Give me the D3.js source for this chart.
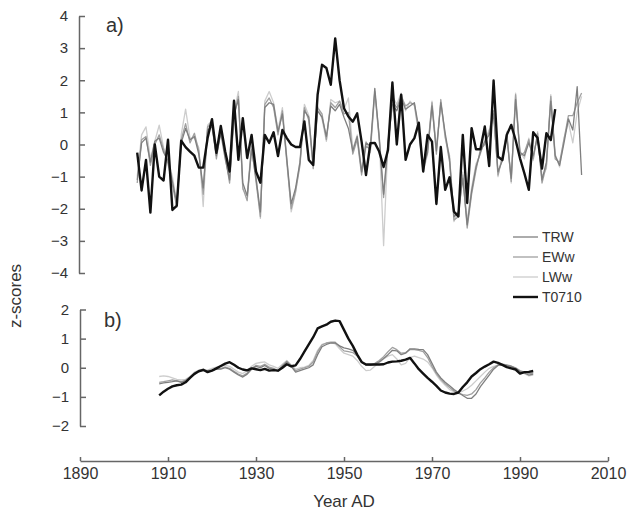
<!DOCTYPE html>
<html>
<head>
<meta charset="utf-8">
<script src="https://cdn.jsdelivr.net/npm/d3@7"></script>
<style>
  body { margin: 0; background: #fff; }
  svg text { font-family: "Liberation Sans", Arial, sans-serif; fill: #333; }
  .axis path, .axis line { stroke: #666; stroke-width: 1.5; }
  .axis text { font-size: 15px; fill: #333; }
</style>
</head>
<body>
<div id="chart"></div>
<script>
//Data

// panel a) annual series, 1903-2004 (T0710 ends 1998)
var yearsRaw = d3.range(1903, 2005);
var yearsT = d3.range(1903, 1999);

var trwRaw = [-1.1, 0.05, 0.2, -0.55, 0.1, 0.2, -0.25, -0.5, -1.15, -1.85,
  0.05, 0.5, 0.15, 0.25, -0.3, -1.35, 0.45, 0.55, -0.35, 0.35,
  -0.45, -1.1, 0.95, 1.4, -1.2, -1.6, -0.15, -1.05, -2.1, 1.15,
  1.3, 1.25, 0.4, 0.95, -0.45, -1.85, -1.35, -0.55, 1.05, 0.85,
  -0.65, 1.05, 0.85, 0.25, 1.2, 1.05, 1.25, 0.85, 0.5, -0.2,
  0.25, -0.85, 0.05, -0.05, 1.75, 0.25, -1.55, 0.05, 1.25, 1.05,
  1.45, 1.1, 1.2, 1.3, 0.5, -0.7, -0.25, 1.2, -0.2, 1.3,
  0.35, -0.45, -2.25, -2.1, -1.05, -2.5, -1.45, -0.7, -0.25, 0.1,
  0.3, 0.95, -0.85, -0.5, 0.25, -1.05, 1.4, -0.25, -0.35, 0.05,
  -0.35, 0.25, -1.1, -0.55, 1.35, -0.35, -0.65, 0.05, 0.8, 0.45,
  1.8, -0.95];

var ewwRaw = [-1.2, 0.15, 0.25, -0.65, 0.0, 0.3, -0.15, -0.6, -1.25, -1.95,
  0.15, 0.65, 0.05, 0.35, -0.2, -1.55, 0.55, 0.65, -0.45, 0.45,
  -0.35, -1.2, 0.85, 1.5, -1.35, -1.75, -0.05, -1.15, -2.25, 1.25,
  1.45, 1.15, 0.3, 1.05, -0.55, -2.0, -1.45, -0.65, 1.15, 0.75,
  -0.75, 1.15, 0.95, 0.15, 1.3, 1.15, 1.35, 0.95, 1.0, -0.3,
  0.15, -0.95, -0.05, -0.15, 1.65, 0.15, -1.65, -0.05, 1.35, 1.15,
  1.5, 1.2, 1.3, 1.25, 0.4, -0.8, -0.15, 1.3, -0.3, 1.4,
  0.25, -0.55, -2.35, -2.25, -0.95, -2.6, -1.55, -0.8, -0.15, 0.0,
  0.4, 1.05, -0.95, -0.4, 0.35, -1.15, 1.55, -0.35, -0.25, 0.15,
  -0.45, 0.35, -1.2, -0.65, 1.5, -0.45, -0.55, 0.15, 0.9, 0.9,
  1.3, 1.6];

var lwwRaw = [-1.0, 0.3, 0.55, -0.45, 0.1, 0.6, -0.1, -0.45, -1.0, -1.8,
  0.3, 1.1, 0.2, 0.2, -0.1, -1.93, 0.6, 0.75, -0.3, 0.5,
  -0.3, -1.0, 1.0, 1.65, -1.4, -1.6, 0.05, -0.95, -2.3, 1.35,
  1.65, 1.3, 0.45, 1.15, -0.4, -2.1, -1.5, -0.5, 1.25, 0.9,
  -0.6, 1.2, 0.8, 0.1, 1.4, 1.3, 1.35, 1.1, 1.45, -0.15,
  0.3, -0.8, 0.1, -0.25, 1.6, 0.3, -3.15, 0.1, 1.5, 1.25,
  1.6, 1.05, 1.35, 1.2, 0.3, -0.85, -0.3, 1.35, -0.1, 1.3,
  0.2, -0.35, -2.4, -2.05, -0.85, -2.4, -1.35, -0.6, -0.3, 0.15,
  0.45, 1.0, -1.0, -0.3, 0.4, -1.2, 1.6, -0.2, -0.45, 0.2,
  -0.5, 0.4, -1.0, -0.75, 1.55, -0.3, -0.7, 0.2, 0.7, 0.05,
  1.0, 1.5];

var t0710Raw = [-0.25, -1.43, -0.48, -2.12, 0.0, -1.0, -1.12, 0.15, -2.04, -1.9,
  0.12, -0.08, -0.22, -0.35, -0.72, -0.72, 0.2, 0.79, -0.26, 0.58,
  -0.22, -0.84, 1.36, -0.48, 0.82, -0.42, 0.3, -0.84, -1.19, 0.3,
  0.05, 0.38, -0.36, 0.45, 0.2, 0.0, -0.08, -0.08, 0.72, -0.48,
  -0.64, 1.55, 2.48, 2.38, 1.86, 3.3, 2.0, 1.13, 0.87, 0.71,
  0.97, 0.09, -0.95, 0.04, 0.05, -0.22, -0.7, -0.17, 1.93, 0.0,
  1.55, -0.48, 0.0, 0.2, 0.68, -0.84, 0.3, 0.09, -1.85, -0.08,
  -1.41, -1.02, -2.09, -2.24, 0.3, -1.82, 0.51, -0.15, -0.15, 0.56,
  -0.67, 1.99, -0.38, -0.48, 0.3, 0.61, 0.14, -0.43, -0.9, -1.41,
  0.38, 0.2, -0.75, 0.35, 0.14, 1.1];

// panel b) smoothed series, 1908-1993
var yearsSmooth = d3.range(1908, 1994);

var trwSmooth = [-0.55, -0.52, -0.5, -0.48, -0.45, -0.5, -0.45, -0.35, -0.22, -0.12,
  -0.1, -0.1, -0.08, -0.05, -0.05, 0.0, -0.05, -0.15, -0.25, -0.32,
  -0.22, -0.05, 0.05, 0.0, 0.08, -0.02, -0.05, -0.12, 0.05, 0.2,
  0.05, -0.15, -0.1, -0.05, 0.0, 0.1, 0.45, 0.72, 0.8, 0.85,
  0.85, 0.75, 0.68, 0.65, 0.6, 0.45, 0.2, 0.1, 0.08, 0.12,
  0.2, 0.32, 0.45, 0.6, 0.58, 0.45, 0.5, 0.65, 0.65, 0.63,
  0.62, 0.45, 0.15, -0.15, -0.35, -0.5, -0.62, -0.75, -0.85, -0.95,
  -1.05, -1.05, -0.9, -0.65, -0.45, -0.25, -0.05, 0.08, 0.1, 0.08,
  0.05, -0.02, -0.12, -0.18, -0.25, -0.22];

var ewwSmooth = [-0.5, -0.48, -0.45, -0.42, -0.45, -0.48, -0.42, -0.32, -0.2, -0.1,
  -0.08, -0.12, -0.1, -0.05, -0.02, 0.02, -0.02, -0.12, -0.22, -0.28,
  -0.18, -0.02, 0.08, 0.05, 0.12, 0.02, -0.02, -0.1, 0.08, 0.22,
  0.08, -0.1, -0.05, 0.0, 0.05, 0.2, 0.55, 0.78, 0.85, 0.88,
  0.88, 0.72, 0.58, 0.55, 0.52, 0.4, 0.18, 0.1, 0.1, 0.15,
  0.25, 0.38, 0.55, 0.7, 0.62, 0.5, 0.52, 0.62, 0.62, 0.6,
  0.55, 0.35, 0.05, -0.2, -0.4, -0.55, -0.68, -0.8, -0.88, -0.92,
  -0.95, -0.9, -0.75, -0.52, -0.35, -0.15, 0.0, 0.1, 0.12, 0.1,
  0.06, 0.0, -0.1, -0.15, -0.2, -0.18];

var lwwSmooth = [-0.3, -0.28, -0.3, -0.35, -0.4, -0.42, -0.4, -0.3, -0.15, -0.08,
  -0.05, -0.08, -0.02, 0.02, 0.05, 0.08, 0.05, -0.05, -0.15, -0.2,
  -0.1, 0.05, 0.15, 0.18, 0.2, 0.1, 0.05, -0.02, 0.12, 0.25,
  0.1, -0.05, 0.0, 0.02, 0.08, 0.25, 0.6, 0.8, 0.85, 0.86,
  0.82, 0.65, 0.5, 0.45, 0.4, 0.25, 0.05, -0.1, -0.08, 0.05,
  0.18, 0.3, 0.4, 0.45, 0.3, 0.1, 0.15, 0.35, 0.4, 0.35,
  0.3, 0.2, 0.0, -0.25, -0.45, -0.6, -0.75, -0.82, -0.85, -0.8,
  -0.72, -0.6, -0.45, -0.3, -0.15, -0.02, 0.05, 0.08, 0.1, 0.06,
  0.02, -0.05, -0.12, -0.2, -0.28, -0.25];

var t0710Smooth = [-0.95, -0.82, -0.72, -0.64, -0.6, -0.58, -0.5, -0.35, -0.21, -0.12,
  -0.07, -0.15, -0.1, -0.02, 0.06, 0.14, 0.19, 0.1, 0.0, -0.06,
  -0.09, -0.02, -0.05, -0.08, -0.04, -0.1, -0.08, -0.1, 0.0, 0.12,
  0.05, 0.08, 0.3, 0.55, 0.8, 1.05, 1.35, 1.42, 1.48, 1.58,
  1.62, 1.6, 1.3, 1.0, 0.75, 0.45, 0.2, 0.11, 0.11, 0.11,
  0.11, 0.12, 0.18, 0.21, 0.22, 0.24, 0.28, 0.34, 0.15, -0.05,
  -0.2, -0.35, -0.48, -0.62, -0.78, -0.85, -0.89, -0.9, -0.85, -0.66,
  -0.5, -0.3, -0.18, -0.05, 0.04, 0.12, 0.21, 0.17, 0.1, 0.02,
  -0.02, -0.06, -0.2, -0.15, -0.14, -0.11];

var seriesNames = ["TRW", "EWw", "LWw", "T0710"];
var seriesColors = ["#7f7f7f", "#a0a0a0", "#cdcdcd", "#111111"];
var seriesWidths = [1.3, 1.3, 1.3, 2.4];

var yTicksA = [-4, -3, -2, -1, 0, 1, 2, 3, 4];
var yTicksB = [-2, -1, 0, 1, 2];
var xTicks = [1890, 1910, 1930, 1950, 1970, 1990, 2010];

//Building the chart
var width = 628, height = 511;
var svg = d3.select("#chart").append("svg")
    .attr("width", width)
    .attr("height", height);
svg.append("rect")
    .attr("width", width)
    .attr("height", height)
    .attr("fill", "#fff");

var x = d3.scaleLinear().domain([1890, 2010]).range([80, 608]);
var yA = d3.scaleLinear().domain([-4, 4]).range([273, 16]);
var yB = d3.scaleLinear().domain([-2, 2]).range([426, 309.5]);
var fmtInt = d3.format("d");

// axes
svg.append("g")
    .attr("class", "axis")
    .attr("transform", "translate(79,0)")
    .call(d3.axisLeft(yA).tickValues(yTicksA).tickFormat(fmtInt).tickSizeInner(-6).tickSizeOuter(0).tickPadding(11));
svg.append("g")
    .attr("class", "axis")
    .attr("transform", "translate(80,0)")
    .call(d3.axisLeft(yB).tickValues(yTicksB).tickFormat(fmtInt).tickSizeInner(-6).tickSizeOuter(0).tickPadding(11));
svg.append("g")
    .attr("class", "axis xaxis")
    .attr("transform", "translate(0,461)")
    .call(d3.axisBottom(x).tickValues(xTicks).tickFormat(fmtInt).tickSizeInner(-4).tickSizeOuter(0).tickPadding(7));
svg.selectAll(".xaxis text").style("font-size", "16px");

// lines
function drawSeries(years, values, yScale, i) {
    var line = d3.line()
        .x(function(d, j) { return x(years[j]); })
        .y(function(d) { return yScale(d); });
    svg.append("path")
        .datum(values)
        .attr("fill", "none")
        .attr("stroke", seriesColors[i])
        .attr("stroke-width", seriesWidths[i])
        .attr("stroke-linejoin", "round")
        .attr("d", line);
}

var rawSets = [trwRaw, ewwRaw, lwwRaw, t0710Raw];
var smoothSets = [trwSmooth, ewwSmooth, lwwSmooth, t0710Smooth];
var drawOrder = [2, 1, 0, 3];
drawOrder.forEach(function(i) {
    drawSeries(i == 3 ? yearsT : yearsRaw, rawSets[i], yA, i);
    drawSeries(yearsSmooth, smoothSets[i], yB, i);
});

// panel labels
svg.append("text").attr("x", 106).attr("y", 32).style("font-size", "20px").text("a)");
svg.append("text").attr("x", 104).attr("y", 327).style("font-size", "20px").text("b)");

// axis titles
svg.append("text")
    .attr("x", 344).attr("y", 507)
    .attr("text-anchor", "middle")
    .style("font-size", "17px")
    .text("Year AD");
svg.append("text")
    .attr("transform", "translate(21,296) rotate(-90)")
    .attr("text-anchor", "middle")
    .style("font-size", "17px")
    .text("z-scores");

// legend
var legend = svg.append("g").attr("transform", "translate(513,237)");
seriesNames.forEach(function(name, i) {
    var g = legend.append("g").attr("transform", "translate(0," + (i * 20) + ")");
    g.append("line")
        .attr("x1", 0).attr("x2", 25)
        .attr("stroke", seriesColors[i])
        .attr("stroke-width", seriesWidths[i]);
    g.append("text")
        .attr("x", 29).attr("y", 5)
        .style("font-size", "14px")
        .text(name);
});
</script>
</body>
</html>
